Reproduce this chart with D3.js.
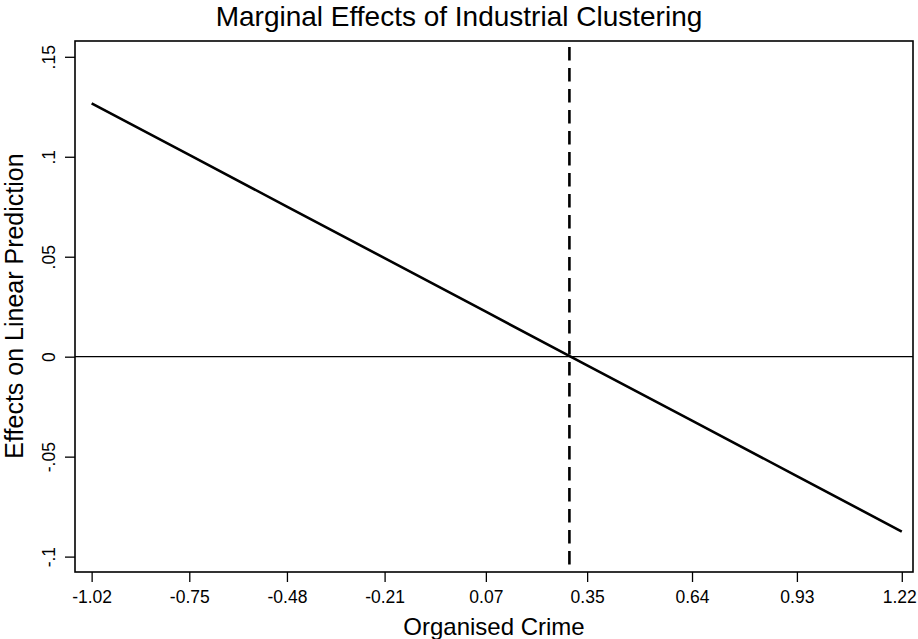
<!DOCTYPE html>
<html>
<head>
<meta charset="utf-8">
<script src="https://cdn.jsdelivr.net/npm/d3@7"></script>
<style>
  body { margin: 0; background: #fff; }
  svg { display: block; }
  text { font-family: "Liberation Sans", Arial, sans-serif; fill: #000; }
</style>
</head>
<body>
<div id="chart"></div>
<script>
// values
var crime = [-1.02, -0.75, -0.48, -0.21, 0.07, 0.35, 0.64, 0.93, 1.22];
var effect = [0.1267, 0.1009, 0.0751, 0.0493, 0.0225, -0.0043, -0.0320, -0.0597, -0.0875];
var xTicks = [-1.02, -0.75, -0.48, -0.21, 0.07, 0.35, 0.64, 0.93, 1.22];
var xTickLabels = ["-1.02", "-0.75", "-0.48", "-0.21", "0.07", "0.35", "0.64", "0.93", "1.22"];
var yTicks = [-0.1, -0.05, 0, 0.05, 0.1, 0.15];
var yTickLabels = ["-.1", "-.05", "0", ".05", ".1", ".15"];
var crossing = 0.301;

var width = 918, height = 639;
var margin = {top: 41, right: 5, bottom: 67, left: 75};
var w = width - margin.left - margin.right,
    h = height - margin.top - margin.bottom;

var svg = d3.select("#chart").append("svg")
    .attr("width", width)
    .attr("height", height);

var g = svg.append("g")
    .attr("transform", "translate(" + margin.left + "," + margin.top + ")");

var xScale = d3.scaleLinear().domain([-1.066, 1.251]).range([0, w]);
var yScale = d3.scaleLinear().domain([-0.1077, 0.1579]).range([h, 0]);

// axes
var xAxis = d3.axisBottom(xScale)
    .tickValues(xTicks)
    .tickSize(10)
    .tickPadding(5)
    .tickFormat(function (d, i) { return xTickLabels[i]; });

g.append("g")
    .attr("class", "x axis")
    .attr("transform", "translate(0," + h + ")")
    .call(xAxis)
    .call(function (a) {
        a.select(".domain").remove();
        a.selectAll("line").attr("stroke", "#000").attr("stroke-width", 1.3);
        a.selectAll("text")
            .style("font-size", "17.5px")
            .attr("dy", "0.92em")
            .attr("dx", function (d, i) { return i === xTicks.length - 1 ? -2.5 : 0; });
    });

var yAxis = d3.axisLeft(yScale)
    .tickValues(yTicks)
    .tickSize(10)
    .tickFormat(function (d, i) { return yTickLabels[i]; });

g.append("g")
    .attr("class", "y axis")
    .call(yAxis)
    .call(function (a) {
        a.select(".domain").remove();
        a.selectAll("line").attr("stroke", "#000").attr("stroke-width", 1.3);
        a.selectAll("text")
            .style("font-size", "17.5px")
            .attr("x", 0)
            .attr("dy", 0)
            .attr("text-anchor", "middle")
            .attr("transform", "translate(-20,0) rotate(-90)");
    });

// zero reference line
g.append("line")
    .attr("x1", 0).attr("x2", w)
    .attr("y1", yScale(0)).attr("y2", yScale(0))
    .attr("stroke", "#000")
    .attr("stroke-width", 1.2);

// dashed line where the effect crosses zero
g.append("line")
    .attr("x1", xScale(crossing)).attr("x2", xScale(crossing))
    .attr("y1", 6).attr("y2", h)
    .attr("stroke", "#000")
    .attr("stroke-width", 2.6)
    .attr("stroke-dasharray", "13.5,7.5");

// marginal effect line
var line = d3.line()
    .x(function (d, i) { return xScale(crime[i]); })
    .y(function (d) { return yScale(d); });

g.append("path")
    .datum(effect)
    .attr("d", line)
    .attr("fill", "none")
    .attr("stroke", "#000")
    .attr("stroke-width", 2.6);

// frame
g.append("rect")
    .attr("x", 0).attr("y", 0)
    .attr("width", w).attr("height", h)
    .attr("fill", "none")
    .attr("stroke", "#000")
    .attr("stroke-width", 1.6);

// titles
svg.append("text")
    .attr("x", 459)
    .attr("y", 26)
    .attr("text-anchor", "middle")
    .style("font-size", "28px")
    .text("Marginal Effects of Industrial Clustering");

svg.append("text")
    .attr("x", 494)
    .attr("y", 635)
    .attr("text-anchor", "middle")
    .style("font-size", "24px")
    .text("Organised Crime");

svg.append("text")
    .attr("transform", "translate(23,306) rotate(-90)")
    .attr("text-anchor", "middle")
    .style("font-size", "25px")
    .text("Effects on Linear Prediction");
</script>
</body>
</html>
